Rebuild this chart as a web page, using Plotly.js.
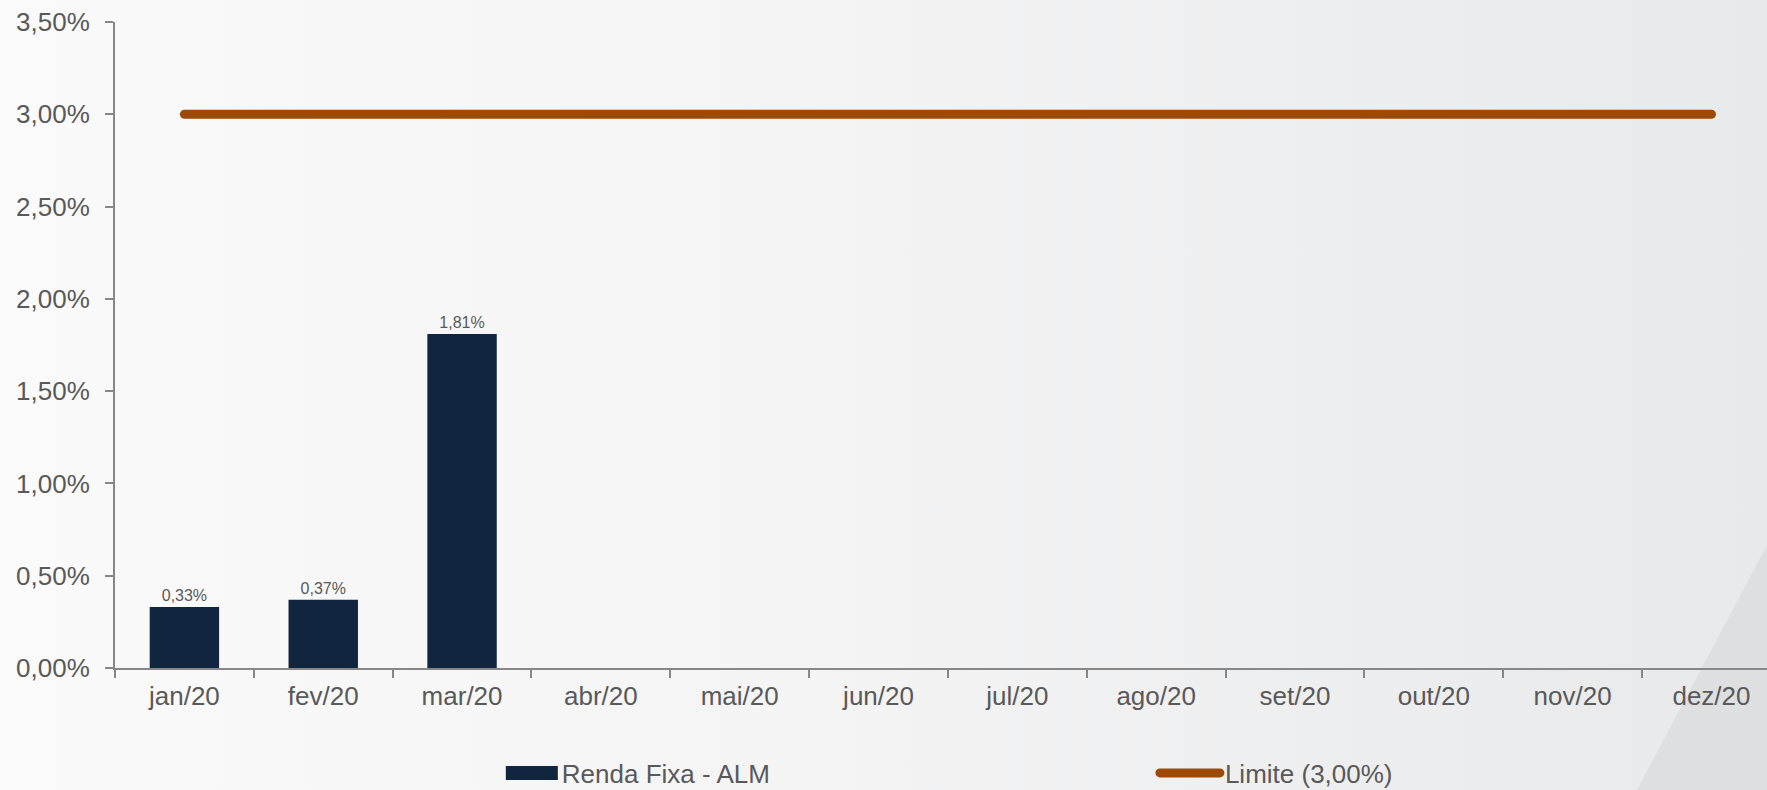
<!DOCTYPE html>
<html>
<head>
<meta charset="utf-8">
<script src="https://cdn.plot.ly/plotly-3.0.1.min.js"></script>
<style>
  html, body { margin: 0; padding: 0; width: 1767px; height: 790px; overflow: hidden; }
  body { background: linear-gradient(to right, #fafafa 0%, #f4f4f5 45%, #e8e9ea 100%); position: relative; }
  #wedge { position: absolute; left: 0; top: 0; width: 1767px; height: 790px;
           background: #dedfe1; clip-path: polygon(1767px 545px, 1637px 790px, 1767px 790px); }
  #chart { position: absolute; left: 0; top: 0; width: 1767px; height: 790px; }
  #chart .scatterlayer path.js-line, #chart .legendlines path { stroke-linecap: round; }
</style>
</head>
<body>
<div id="wedge"></div>
<div id="chart"></div>
<script>
const categories = ["jan/20","fev/20","mar/20","abr/20","mai/20","jun/20","jul/20","ago/20","set/20","out/20","nov/20","dez/20"];
const rendaFixaALM = [0.0033, 0.0037, 0.0181, null, null, null, null, null, null, null, null, null];
const limite = [0.03, 0.03, 0.03, 0.03, 0.03, 0.03, 0.03, 0.03, 0.03, 0.03, 0.03, 0.03];
const seriesNames = ["Renda Fixa - ALM", "Limite (3,00%)"];

const fontFam = "Liberation Sans, Arial, sans-serif";
const gray = "#595959";

const traces = [
  {
    type: "bar",
    x: categories,
    y: rendaFixaALM,
    name: seriesNames[0],
    legend: "legend",
    marker: { color: "#12253f" },
    width: 0.5,
    texttemplate: "%{y:.2%}",
    textposition: "outside",
    textfont: { family: fontFam, size: 16, color: gray },
    cliponaxis: false,
    hoverinfo: "skip"
  },
  {
    type: "scatter",
    mode: "lines",
    x: categories,
    y: limite,
    name: seriesNames[1],
    legend: "legend2",
    line: { color: "#9c4a06", width: 9 },
    hoverinfo: "skip"
  }
];

const axisCommon = {
  showline: true,
  linecolor: "#878787",
  linewidth: 2,
  ticks: "outside",
  ticklen: 8,
  tickwidth: 2,
  tickcolor: "#878787",
  showgrid: false,
  zeroline: false,
  tickfont: { family: fontFam, size: 26, color: gray }
};

const legendCommon = {
  xref: "container",
  yref: "container",
  xanchor: "left",
  yanchor: "middle",
  y: 0.0215,
  orientation: "h",
  bgcolor: "rgba(0,0,0,0)",
  borderwidth: 0,
  font: { family: fontFam, size: 26, color: gray }
};

const layout = {
  width: 1767,
  height: 790,
  margin: { l: 115, r: 0, t: 22, b: 122 },
  paper_bgcolor: "rgba(0,0,0,0)",
  plot_bgcolor: "rgba(0,0,0,0)",
  separators: ",.",
  font: { family: fontFam, size: 26, color: gray },
  showlegend: true,
  xaxis: Object.assign({}, axisCommon, {
    type: "category",
    range: [-0.5, 11.4],
    tickson: "boundaries",
    ticklabelstandoff: 4
  }),
  yaxis: Object.assign({}, axisCommon, {
    range: [0, 0.035],
    tickvals: [0, 0.005, 0.01, 0.015, 0.02, 0.025, 0.03, 0.035],
    tickformat: ".2%",
    ticklabelstandoff: 10
  }),
  legend: Object.assign({}, legendCommon, { x: 0.284, itemwidth: 50 }),
  legend2: Object.assign({}, legendCommon, { x: 0.6536, itemwidth: 60 })
};

Plotly.newPlot("chart", traces, layout, { displayModeBar: false, staticPlot: true }).then(function () {
  // widen the bar legend swatch to a flat rectangle like the reference
  document.querySelectorAll("#chart .legend .legendpoints path.legendbar, #chart .legend .legendpoints path.legendundefined").forEach(function (p) {
    p.setAttribute("d", "M-26,-7H26V7H-26Z");
  });
});
</script>
</body>
</html>
